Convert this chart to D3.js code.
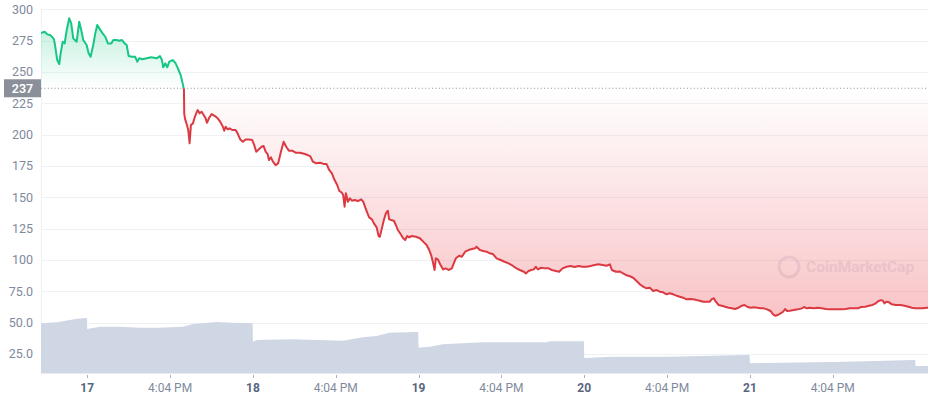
<!DOCTYPE html>
<html>
<head>
<meta charset="utf-8">
<script src="https://cdn.jsdelivr.net/npm/d3@7"></script>
<style>
  html, body { margin: 0; padding: 0; background: #fff; }
  svg { display: block; font-family: Roboto, "Noto Sans", sans-serif; }
</style>
</head>
<body>
<svg id="chart" width="928" height="400"></svg>
<script>
// ---- DATA (hours relative to Nov 17 00:00) ----
const priceHours = [-6.7,-6.56,-6.17,-5.79,-5.40,-5.11,-4.82,-4.63,-4.35,-4.06,-3.85,-3.56,-3.27,-2.98,-2.61,-2.32,-2.03,-1.54,-1.16,-0.87,-0.58,-0.09,0.20,0.49,0.87,1.16,1.45,1.84,2.23,2.61,3.00,3.48,3.77,4.26,4.63,5.03,5.42,5.71,6.00,6.47,6.95,7.24,7.53,8.02,8.60,9.27,10.05,10.53,10.82,11.01,11.30,11.59,11.88,12.37,12.75,13.14,13.53,13.82,14.01,
14.05,14.15,14.44,14.63,14.83,15.02,15.31,15.60,15.99,16.28,16.57,16.86,17.15,17.34,17.63,18.02,18.50,18.89,19.26,19.65,19.84,20.05,20.34,20.63,21.00,21.49,21.78,22.16,22.55,22.94,23.42,23.90,24.19,24.48,24.87,25.26,25.55,25.84,26.13,26.32,26.61,26.90,27.29,27.66,28.06,28.45,28.82,29.21,29.69,30.18,30.85,31.53,32.30,32.69,33.17,33.75,34.33,34.67,35.05,35.44,35.83,36.21,36.50,36.89,37.08,37.28,37.47,37.76,38.05,38.34,38.73,39.21,39.69,39.98,40.27,40.56,40.84,41.24,41.53,41.92,42.21,42.39,42.68,42.97,43.26,43.55,43.74,44.03,44.42,44.71,45.00,45.39,45.77,46.06,46.35,46.64,47.03,47.61,48.19,48.67,49.16,49.54,49.82,50.11,50.32,50.50,50.79,51.18,51.56,51.95,52.34,52.82,53.01,53.40,53.88,54.27,54.75,55.24,55.72,56.20,56.40,56.88,57.36,57.85,58.33,58.81,59.30,59.88,60.46,61.04,61.62,62.19,62.67,63.25,63.54,63.93,64.31,64.70,64.99,65.28,65.76,66.34,66.83,67.31,67.89,68.36,68.86,69.44,70.02,70.60,71.17,71.75,72.33,72.91,73.49,74.07,74.65,75.23,75.71,76.00,76.58,77.16,77.63,78.13,78.61,79.08,79.58,80.05,80.53,81.02,81.50,81.98,82.47,82.95,83.43,83.92,84.40,84.88,85.37,85.85,86.32,86.82,87.30,87.77,88.27,88.74,89.22,89.71,90.19,90.48,90.77,91.06,91.45,91.93,92.41,92.90,93.38,93.86,94.35,94.83,95.22,95.60,96.09,96.56,97.04,97.53,98.01,98.49,98.98,99.36,99.65,100.04,100.43,100.81,101.10,101.39,101.78,102.36,102.94,103.52,103.91,104.20,104.68,105.25,105.83,106.41,106.99,107.57,108.15,108.73,109.31,109.89,110.47,111.05,111.63,112.11,112.69,113.26,113.76,114.24,114.63,115.00,115.29,115.49,115.78,116.16,116.55,117.13,117.81,118.39,118.97,119.45,119.93,120.50,121.08,121.58,121.8];
const priceValues = [280.8,281.3,282.1,280.0,279.5,278.1,276.0,270.1,259.5,256.3,264.9,274.1,272.8,283.4,292.8,288.8,276.8,274.1,290.1,283.4,275.5,271.5,264.9,262.1,271.5,280.8,287.4,284.0,280.8,278.1,272.8,272.8,275.5,275.5,274.9,275.5,272.8,271.5,262.7,262.1,262.1,258.2,260.9,260.1,260.9,261.7,260.9,262.7,259.5,253.7,256.9,253.7,258.2,259.5,257.4,252.9,247.5,240.9,235.6,
217.0,213.0,207.7,203.7,193.1,207.7,209.0,214.3,219.6,217.0,218.3,215.6,213.0,209.5,213.0,216.4,214.8,213.0,210.3,206.3,203.1,206.3,204.2,205.0,203.7,203.7,201.0,196.2,194.3,196.2,196.2,195.7,191.7,186.4,188.3,190.3,190.9,186.4,184.5,179.7,181.9,178.4,175.7,177.1,186.4,194.3,190.3,187.2,187.2,185.6,185.6,184.5,182.9,178.4,177.1,177.6,176.5,176.5,171.8,169.1,163.8,159.8,155.2,153.6,151.8,142.5,153.2,146.5,149.2,147.3,147.8,147.0,148.4,146.5,142.0,137.7,134.0,132.4,129.2,126.0,119.1,118.5,125.2,131.9,137.2,139.3,132.4,131.9,131.3,127.9,123.9,120.7,117.3,115.9,119.1,118.1,119.1,118.5,117.3,114.6,111.9,107.9,103.9,97.3,92.0,101.3,100.5,96.0,92.5,93.3,92.0,93.3,96.0,101.3,103.4,102.6,106.6,107.9,108.7,109.3,110.6,107.9,107.1,106.6,105.3,104.5,101.3,100.0,98.6,97.3,95.4,93.3,92.0,90.6,89.3,91.2,92.0,92.5,94.6,92.5,93.8,93.3,93.3,92.0,91.2,90.6,93.3,94.6,95.2,94.4,95.2,94.6,94.6,95.2,96.0,96.5,96.0,95.4,96.5,92.0,90.6,90.8,89.3,87.8,87.0,85.8,83.2,80.6,78.7,77.4,77.9,75.2,76.0,74.7,74.2,72.6,73.4,72.6,71.5,70.7,69.9,68.6,68.8,68.6,68.0,67.5,66.7,66.7,66.7,68.8,69.4,66.7,64.1,63.5,62.7,61.9,61.4,60.9,61.9,63.5,64.1,62.7,61.9,62.2,61.9,61.4,61.4,60.6,59.3,56.6,55.5,56.1,57.4,58.7,60.9,59.3,59.5,60.1,60.6,61.4,62.5,61.4,61.9,61.4,61.9,61.4,60.9,60.6,60.6,60.6,60.6,60.9,61.4,61.4,61.4,62.5,62.7,63.5,64.1,65.4,67.3,68.0,67.3,65.4,66.7,66.2,64.6,64.1,64.1,63.5,62.7,61.9,61.4,61.4,61.4,61.9,61.9];
const volumeHours  = [-6.7,-4.39,-1.49,-0.04,0.0,1.84,4.74,7.63,10.10,13.86,15.31,18.78,21.10,23.95,24.0,24.58,29.8,37.0,39.9,41.9,43.8,47.7,47.95,48.0,49.6,51.5,54.4,57.3,66.6,67.0,71.95,72.0,76.1,84.0,95.6,95.95,96.0,100.8,108.0,112.9,119.6,119.95,120.0,121.8];
const volumeValues = [50.2,51.2,54.8,55.5,44.5,46.8,46.8,45.8,45.8,46.8,49.5,51.5,50.8,50.2,31.8,33.5,34.2,32.8,36.2,37.5,40.8,41.5,41.5,25.8,26.8,29.2,30.2,31.2,31.2,32.2,32.2,15.5,16.8,16.8,18.5,18.5,10.2,10.8,11.5,12.2,13.5,13.5,7.5,7.5];
const openPrice = 237;
const yTickValues = [300,275,250,225,200,175,150,125,100,75,50,25];
const yTickLabels = ["300","275","250","225","200","175","150","125","100","75.0","50.0","25.0"];
const xTickHours  = [0,12,24,36,48,60,72,84,96,108];
const xTickLabels = ["17","4:04 PM","18","4:04 PM","19","4:04 PM","20","4:04 PM","21","4:04 PM"];

// ---- LAYOUT ----
const pLeft = 41, pRight = 928, pTop = 9.3, pBottom = 373.5;
const svg = d3.select("#chart");
const x = d3.scaleLinear().domain([-6.7, 121.8]).range([pLeft, pRight]);
const y = d3.scaleLinear().domain([0, 300]).range([385.3, pTop]);
const yv = d3.scaleLinear().domain([0, 100]).range([pBottom, pBottom - 100]);

const priceData = priceHours.map((h, i) => ({h, p: priceValues[i]}));
const volData = volumeHours.map((h, i) => ({h, v: volumeValues[i]}));
const baseY = y(openPrice);

const defs = svg.append("defs");
defs.append("clipPath").attr("id", "above").append("rect")
  .attr("x", pLeft).attr("y", 0).attr("width", pRight - pLeft).attr("height", baseY);
defs.append("clipPath").attr("id", "below").append("rect")
  .attr("x", pLeft).attr("y", baseY).attr("width", pRight - pLeft).attr("height", pBottom - baseY);

const gG = defs.append("linearGradient").attr("id", "gGreen")
  .attr("gradientUnits", "userSpaceOnUse").attr("x1", 0).attr("x2", 0)
  .attr("y1", y(295)).attr("y2", baseY);
gG.append("stop").attr("offset", 0).attr("stop-color", "#16c784").attr("stop-opacity", 0.3);
gG.append("stop").attr("offset", 1).attr("stop-color", "#16c784").attr("stop-opacity", 0.0);

const gR = defs.append("linearGradient").attr("id", "gRed")
  .attr("gradientUnits", "userSpaceOnUse").attr("x1", 0).attr("x2", 0)
  .attr("y1", baseY).attr("y2", y(55));
gR.append("stop").attr("offset", 0).attr("stop-color", "#ea3943").attr("stop-opacity", 0.0);
gR.append("stop").attr("offset", 1).attr("stop-color", "#ea3943").attr("stop-opacity", 0.3);

// grid
svg.append("g").selectAll("line").data(yTickValues).join("line")
  .attr("x1", pLeft).attr("x2", pRight)
  .attr("y1", d => Math.round(y(d)) + 0.5).attr("y2", d => Math.round(y(d)) + 0.5)
  .attr("stroke", "#eff2f5").attr("stroke-width", 1);
svg.append("line").attr("x1", pLeft + 0.5).attr("x2", pLeft + 0.5)
  .attr("y1", pTop).attr("y2", pBottom).attr("stroke", "#eff2f5");

// y labels
svg.append("g").selectAll("text").data(yTickValues).join("text")
  .attr("x", 33).attr("y", d => y(d)).attr("dy", "0.35em")
  .attr("text-anchor", "end").attr("font-size", 12.5).attr("fill", "#808a9d")
  .text((d, i) => yTickLabels[i]);

// watermark
const wm = svg.append("g").attr("opacity", 0.75);
wm.append("circle").attr("cx", 789).attr("cy", 267).attr("r", 10)
  .attr("fill", "none").attr("stroke", "#e3e6ee").attr("stroke-width", 3);
wm.append("text").attr("x", 806).attr("y", 267).attr("dy", "0.35em")
  .attr("font-size", 15.5).attr("font-weight", 700).attr("fill", "#e3e6ee")
  .text("CoinMarketCap");

// price areas
const area = d3.area().x(d => x(d.h)).y0(baseY).y1(d => y(d.p));
const line = d3.line().x(d => x(d.h)).y(d => y(d.p));
svg.append("path").datum(priceData).attr("d", area).attr("fill", "url(#gGreen)").attr("clip-path", "url(#above)");
svg.append("path").datum(priceData).attr("d", area).attr("fill", "url(#gRed)").attr("clip-path", "url(#below)");

// volume
const vArea = d3.area().x(d => x(d.h)).y0(pBottom).y1(d => yv(d.v));
svg.append("path").datum(volData).attr("d", vArea).attr("fill", "#cfd6e4");

// baseline dotted
svg.append("line").attr("x1", pLeft).attr("x2", pRight)
  .attr("y1", baseY).attr("y2", baseY)
  .attr("stroke", "#8a8f99").attr("stroke-width", 1).attr("stroke-dasharray", "1,2.4");

// price lines
svg.append("path").datum(priceData).attr("d", line).attr("fill", "none")
  .attr("stroke", "#16c784").attr("stroke-width", 2).attr("stroke-linejoin", "round")
  .attr("clip-path", "url(#above)");
svg.append("path").datum(priceData).attr("d", line).attr("fill", "none")
  .attr("stroke", "#dc3a42").attr("stroke-width", 2).attr("stroke-linejoin", "round")
  .attr("clip-path", "url(#below)");

// badge
svg.append("rect").attr("x", 4).attr("y", baseY - 9).attr("width", 37).attr("height", 18)
  .attr("fill", "#8a8f99");
svg.append("text").attr("x", 22.5).attr("y", baseY).attr("dy", "0.36em")
  .attr("text-anchor", "middle").attr("font-size", 12.5).attr("font-weight", 600)
  .attr("fill", "#fff").text(String(openPrice));

// x axis ticks and labels
const xa = svg.append("g");
xa.selectAll("line").data(xTickHours).join("line")
  .attr("x1", d => Math.round(x(d)) + 0.5).attr("x2", d => Math.round(x(d)) + 0.5)
  .attr("y1", 375).attr("y2", 378).attr("stroke", "#a6b0c3");
xa.selectAll("text").data(xTickHours).join("text")
  .attr("x", d => x(d)).attr("y", 392)
  .attr("text-anchor", "middle").attr("font-size", 12)
  .attr("font-weight", (d, i) => i % 2 === 0 ? 700 : 400)
  .attr("fill", (d, i) => i % 2 === 0 ? "#58667e" : "#808a9d")
  .text((d, i) => xTickLabels[i]);
</script>
</body>
</html>
